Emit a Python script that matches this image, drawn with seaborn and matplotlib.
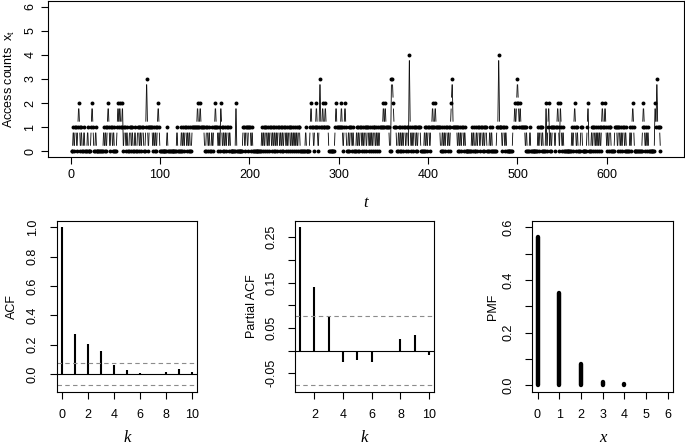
import matplotlib
matplotlib.use("Agg")
import matplotlib.pyplot as plt
from matplotlib.collections import LineCollection
import seaborn as sns
import numpy as np
import pandas as pd

count_blocks = [
    "0010110121", "0100100010", "0012100100", "0000001010", "1210110100",
    "0121211201", "1010011010", "0100110101", "1001310111", "1010101210",
    "0000000100", "0000000010", "0001010110", "1010011111", "1211211110",
    "0110100101", "1211010210", "1010110100", "0000200000", "0011011011",
    "1010000000", "0001010110", "1011010101", "0110101011", "0101101010",
    "1010110000", "0010000121", "1011210131", "1211211100", "0000012111",
    "1121012100", "1011010001", "0101101011", "0110101011", "0101011112",
    "1211110033", "2111001010", "1011011041", "0101101011", "1000010101",
    "1011211211", "1110010101", "1010123111", "1101010110", "1000000010",
    "1001011011", "0101100010", "1000001141", "1101101000", "0000112123",
    "2121111101", "0001000000", "0010110100", "0201201011", "1011210210",
    "1000000000", "1012101000", "1100000120", "0010110101", "0101211210",
    "1011000011", "1011010110", "1000010121", "0000000001", "2101010000",
    "0002131110",
]
counts = [int(c) for c in "".join(count_blocks)]

acf_lags = list(range(0, 11))
acf_vals = [1.0, 0.27, 0.205, 0.155, 0.06, 0.025, 0.005, -0.007, 0.015, 0.035, 0.015]
pacf_lags = list(range(1, 11))
pacf_vals = [0.272, 0.140, 0.076, -0.026, -0.021, -0.024, -0.004, 0.025, 0.035, -0.009]
pmf_x = list(range(0, 7))
pmf_vals = [0.563, 0.349, 0.083, 0.014, 0.004, 0.0, 0.0]
ci = 0.0763

sns.set_style("ticks")
plt.rcParams['font.family'] = ['Liberation Sans', 'DejaVu Sans']
plt.rcParams.update({
    'axes.edgecolor': 'black', 'axes.linewidth': 0.8,
    'xtick.color': 'black', 'ytick.color': 'black',
    'xtick.major.size': 4.8, 'ytick.major.size': 4.8,
    'xtick.major.width': 0.8, 'ytick.major.width': 0.8,
    'font.size': 9, 'text.color': 'black', 'axes.labelcolor': 'black',
    'mathtext.default': 'regular',
})
ital = dict(family='Liberation Serif', style='italic', size=12)

W, H = 685, 447
fig = plt.figure(figsize=(W / 100, H / 100), dpi=100)


def box(l, t, r, b):
    return [l / W, 1 - b / H, (r - l) / W, (b - t) / H]


def place_labels(ax, wpx, hpx, ylab_off, xlab_off):
    ax.yaxis.label.set_va('center')
    ax.yaxis.set_label_coords(-ylab_off / wpx, 0.5)
    ax.xaxis.label.set_va('center')
    ax.xaxis.set_label_coords(0.5, -xlab_off / hpx)


# ---- top panel: time series drawn like R's type = "b"
ax = fig.add_axes(box(48, 1, 684, 157))
df = pd.DataFrame({'t': np.arange(1, len(counts) + 1), 'x': counts})
n = len(df)
ax.set_xlim(1 - 0.04 * (n - 1), n + 0.04 * (n - 1))
ax.set_ylim(-0.24, 6.24)
pts = ax.transData.transform(df[['t', 'x']].to_numpy(float))
gap = 5.5
segs = []
for p0, p1 in zip(pts[:-1], pts[1:]):
    d = p1 - p0
    L = np.hypot(*d)
    if L > 2 * gap:
        u = d / L
        segs.append(ax.transData.inverted().transform([p0 + u * gap, p1 - u * gap]))
ax.add_collection(LineCollection(segs, colors='black', linewidths=0.6))
sns.scatterplot(data=df, x='t', y='x', color='black', s=8, linewidth=0, ax=ax, zorder=3)
ax.set_xlim(1 - 0.04 * (n - 1), n + 0.04 * (n - 1))
ax.set_ylim(-0.24, 6.24)
ax.set_xticks(range(0, 700, 100))
ax.set_yticks(range(0, 7))
ax.set_yticklabels([str(v) for v in range(0, 7)], rotation=90, va='center')
ax.tick_params(pad=3.6)
ax.set_xlabel('t', fontdict=ital)
ax.set_ylabel(r'Access counts  $x_t$')
place_labels(ax, 636, 156, 39, 46)

# ---- ACF
ax1 = fig.add_axes(box(56.7, 221, 197.3, 391.7))
ax1.vlines(acf_lags, 0, acf_vals, color='black', lw=1.5)
ax1.axhline(0, color='black', lw=0.8)
for s in (ci, -ci):
    ax1.axhline(s, color='0.55', lw=0.8, ls=(0, (4, 3)))
ax1.set_xlim(-0.4, 10.4)
ax1.set_ylim(-0.12, 1.043)
ax1.set_xticks(range(0, 11, 2))
ax1.set_yticks([0, 0.2, 0.4, 0.6, 0.8, 1.0])
ax1.set_yticklabels(['0.0', '0.2', '0.4', '0.6', '0.8', '1.0'], rotation=90, va='center')
ax1.set_xlabel('k', fontdict=ital)
ax1.set_ylabel('ACF')
place_labels(ax1, 140.6, 170.7, 45, 46)

# ---- PACF
ax2 = fig.add_axes(box(295, 221, 434.3, 391.7))
ax2.vlines(pacf_lags, 0, pacf_vals, color='black', lw=1.5)
ax2.axhline(0, color='black', lw=0.8)
for s in (ci, -ci):
    ax2.axhline(s, color='0.55', lw=0.8, ls=(0, (4, 3)))
ax2.set_xlim(0.64, 10.36)
ax2.set_ylim(-0.0906, 0.286)
ax2.set_xticks(range(2, 11, 2))
pticks = [-0.05, 0.0, 0.05, 0.10, 0.15, 0.20, 0.25]
ax2.set_yticks(pticks)
ax2.set_yticklabels(['-0.05', '', '0.05', '', '0.15', '', '0.25'], rotation=90, va='center')
ax2.set_xlabel('k', fontdict=ital)
ax2.set_ylabel('Partial ACF')
place_labels(ax2, 139.3, 170.7, 43, 46)

# ---- PMF
ax3 = fig.add_axes(box(532.3, 221, 672.7, 391.7))
xs = [x for x, v in zip(pmf_x, pmf_vals) if v > 0]
vs = [v for v in pmf_vals if v > 0]
lc = ax3.vlines(xs, 0, vs, color='black', lw=3.2)
lc.set_capstyle('round')
ax3.set_xlim(-0.24, 6.24)
ax3.set_ylim(-0.024, 0.624)
ax3.set_xticks(pmf_x)
ax3.set_yticks([0, 0.1, 0.2, 0.3, 0.4, 0.5, 0.6])
ax3.set_yticklabels(['0.0', '', '0.2', '', '0.4', '', '0.6'], rotation=90, va='center')
ax3.set_xlabel('x', fontdict=ital)
ax3.set_ylabel('PMF')
place_labels(ax3, 140.4, 170.7, 39, 46)

for a in (ax1, ax2, ax3):
    a.tick_params(pad=8)

fig.savefig('out.png', dpi=100)
